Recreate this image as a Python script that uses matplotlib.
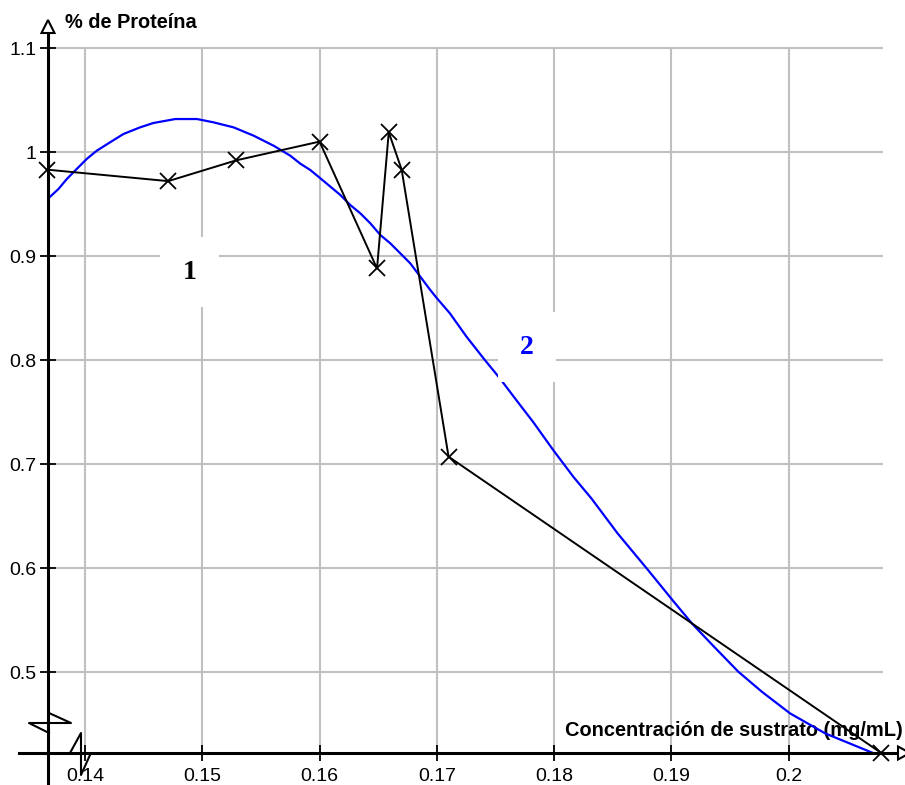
import matplotlib
matplotlib.use("Agg")
import matplotlib.pyplot as plt
from matplotlib.patches import Polygon
from matplotlib.transforms import ScaledTranslation

plt.rcParams["font.family"] = ["Liberation Sans", "DejaVu Sans"]

# datos experimentales (linea negra con cruces)
conc = [0.1368, 0.1471, 0.1529, 0.1600, 0.1649, 0.1659, 0.1670, 0.1710, 0.2079]
proteina = [0.983, 0.972, 0.992, 1.010, 0.888, 1.019, 0.983, 0.707, 0.422]

# curva de ajuste (azul)
fit_conc = [0.13697, 0.13774, 0.13845, 0.13930, 0.14015, 0.14100, 0.14214,
            0.14328, 0.14470, 0.14584, 0.14770, 0.14955, 0.15097, 0.15267,
            0.15438, 0.15609, 0.15751, 0.15836, 0.15921, 0.16007, 0.16092,
            0.16177, 0.16262, 0.16348, 0.16433, 0.16518, 0.16603, 0.16688,
            0.16773, 0.16859, 0.16944, 0.17001, 0.17111, 0.17253, 0.17409,
            0.17537, 0.17679, 0.17821, 0.17994, 0.18165, 0.18319, 0.18540,
            0.18800, 0.19020, 0.19180, 0.19370, 0.19570, 0.19770, 0.20010,
            0.20310, 0.20710]
fit_prot = [0.9564, 0.9644, 0.9740, 0.9837, 0.9933, 1.0012, 1.0093,
            1.0173, 1.0237, 1.0279, 1.0317, 1.0317, 1.0285, 1.0237,
            1.0157, 1.0060, 0.9964, 0.9888, 0.9827, 0.9747, 0.9667,
            0.9587, 0.9490, 0.9410, 0.9314, 0.9202, 0.9122, 0.9026,
            0.8930, 0.8801, 0.8673, 0.8593, 0.8449, 0.8224, 0.8000,
            0.7824, 0.7612, 0.7404, 0.7131, 0.6875, 0.6667, 0.6334,
            0.5981, 0.5676, 0.5460, 0.5235, 0.5003, 0.4811, 0.4603,
            0.4410, 0.4225]

x_ticks = [0.14, 0.15, 0.16, 0.17, 0.18, 0.19, 0.2]
x_tick_labels = ["0.14", "0.15", "0.16", "0.17", "0.18", "0.19", "0.2"]
y_ticks = [0.5, 0.6, 0.7, 0.8, 0.9, 1.0, 1.1]
y_tick_labels = ["0.5", "0.6", "0.7", "0.8", "0.9", "1", "1.1"]

x_title = "Concentración de sustrato (mg/mL)"
y_title = "% de Proteína"

XLIM = (0.13685, 0.20991)
YLIM = (0.42212, 1.12885)
GRID_X_END = 0.2080
GRID = "#c0c0c0"

fig = plt.figure(figsize=(9.05, 7.85), dpi=100)
ax = fig.add_axes([48 / 905, 32 / 785, 857 / 905, 735 / 785])
ax.set_xlim(*XLIM)
ax.set_ylim(*YLIM)
for s in ax.spines.values():
    s.set_visible(False)

# cuadricula
ax.vlines(x_ticks, YLIM[0], y_ticks[-1], colors=GRID, linewidth=1.5, zorder=1)
ax.hlines(y_ticks, XLIM[0], GRID_X_END, colors=GRID, linewidth=1.5, zorder=1)

ax.set_xticks(x_ticks)
ax.set_xticklabels(x_tick_labels)
ax.set_yticks(y_ticks)
ax.set_yticklabels(y_tick_labels)
ax.tick_params(direction="inout", length=11, width=1.3, labelsize=14)
ax.tick_params(axis="x", pad=5)
ax.tick_params(axis="y", pad=3)

ax.plot(fit_conc, fit_prot, color="#0000ff", linewidth=1.6, zorder=3)
ax.plot(conc, proteina, color="black", linewidth=1.4, marker="x",
        markersize=12, markeredgewidth=1.3, zorder=4, clip_on=False)

# ejes dibujados a mano (offset en pulgadas desde el origen de los ejes)
off = fig.dpi_scale_trans + ScaledTranslation(0, 0, ax.transAxes)
ax.plot([0, 0], [-0.33, 7.20], color="black", linewidth=2.2,
        transform=off, clip_on=False, zorder=6)
ax.plot([-0.29, 8.50], [0, 0], color="black", linewidth=2.2,
        transform=off, clip_on=False, zorder=6)
ax.add_patch(Polygon([(0, 7.33), (-0.065, 7.20), (0.065, 7.20)], closed=True,
                     facecolor="white", edgecolor="black", linewidth=1.5,
                     transform=off, clip_on=False, zorder=7))
ax.add_patch(Polygon([(8.62, 0), (8.50, 0.065), (8.50, -0.065)], closed=True,
                     facecolor="white", edgecolor="black", linewidth=1.5,
                     transform=off, clip_on=False, zorder=7))

# marcas de corte de eje
ax.plot([0.01, 0.23, -0.19, 0.01], [0.40, 0.30, 0.30, 0.20], color="black",
        linewidth=1.5, transform=off, clip_on=False, zorder=6)
ax.plot([0.22, 0.33, 0.33, 0.42], [0.0, 0.20, -0.22, -0.02], color="black",
        linewidth=1.5, transform=off, clip_on=False, zorder=6)

# titulos de los ejes
ax.text(8.55, 0.17, x_title, transform=off, ha="right", va="baseline",
        fontsize=14.4, fontweight="bold", zorder=2)
ax.text(0.17, 7.25, y_title, transform=off, ha="left", va="baseline",
        fontsize=14.4, fontweight="bold", zorder=2)

# etiquetas de las curvas
ax.text(0.1489, 0.8846, "1", fontsize=20, fontweight="bold", color="black",
        family="Liberation Serif", ha="center", va="center", zorder=5,
        bbox=dict(facecolor="white", edgecolor="none", pad=16))
ax.text(0.17767, 0.8125, "2", fontsize=20, fontweight="bold", color="#0000ff",
        family="Liberation Serif", ha="center", va="center", zorder=5,
        bbox=dict(facecolor="white", edgecolor="none", pad=16))

fig.savefig("out.png", dpi=100)
